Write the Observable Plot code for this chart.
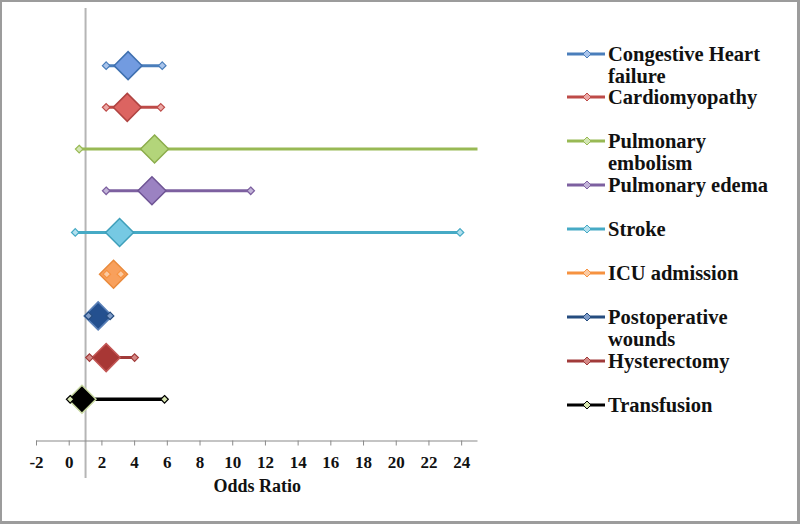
<!DOCTYPE html>
<html>
<head>
<meta charset="utf-8">
<script src="https://cdn.jsdelivr.net/npm/d3@7"></script>
<script src="https://cdn.jsdelivr.net/npm/@observablehq/plot@0.6"></script>
<style>
  html, body { margin: 0; padding: 0; background: #fff; }
  #wrap { position: relative; width: 800px; height: 524px; overflow: hidden; background: #fff; }
  #border { position: absolute; left: 0; top: 0; width: 800px; height: 524px; box-sizing: border-box;
            border: 2px solid #9c9c9c; border-right-width: 3px; border-bottom-width: 3px; pointer-events: none; }
  #chart { position: absolute; left: 0; top: 0; }
  .leg { position: absolute; left: 567px; font-family: "Liberation Serif", serif; font-weight: bold;
         font-size: 20.5px; line-height: 22px; color: #111; }
  .leg svg { position: absolute; left: 0; top: 0; }
  .leg span { position: absolute; left: 41px; top: 0; width: 180px; display: block; }
</style>
</head>
<body>
<div id="wrap">
  <div id="chart"></div>
  <div id="legend"></div>
  <div id="border"></div>
</div>
<script>
const categories = ["Congestive Heart failure", "Cardiomyopathy", "Pulmonary embolism", "Pulmonary edema",
  "Stroke", "ICU admission", "Postoperative wounds", "Hysterectomy", "Transfusion"];
const oddsRatio = [3.6, 3.55, 5.22, 5.06, 3.08, 2.71, 1.77, 2.26, 0.78];
const ciLow = [2.26, 2.26, 0.61, 2.26, 0.37, 2.3, 1.18, 1.24, 0.06];
const ciHigh = [5.69, 5.6, 40, 11.1, 23.9, 3.16, 2.5, 4.0, 5.83];
const xTicks = [-2, 0, 2, 4, 6, 8, 10, 12, 14, 16, 18, 20, 22, 24];
const lineColors = ["#4a7ebb", "#be4b48", "#98b954", "#7d60a0", "#46aac5", "#f69240", "#254c7f", "#a13b3a", "#000000"];
const diamondFills = ["#729be0", "#dc6461", "#b3d57a", "#9b82c2", "#76c9e3", "#f8a05c", "#24508f", "#a83735", "#000000"];
const diamondStrokes = ["#3f70b0", "#b04442", "#8cad4c", "#6e5494", "#3e9fba", "#e98a3c", "#5a80b8", "#c25654", "#c9d9a2"];
const markerFills = ["#a9c4eb", "#eba8a6", "#d3e6b3", "#c2b3d8", "#b3e0ee", "#fbcaa2", "#7f9cc8", "#d48886", "#d7e6b0"];
const refLine = 1;

const rows = categories.map((c, i) => ({
  name: c, y: categories.length - i, or: oddsRatio[i], lo: ciLow[i], hi: ciHigh[i],
  line: lineColors[i], fill: diamondFills[i], stroke: diamondStrokes[i], mfill: markerFills[i]
}));
const ends = rows.flatMap(r => [{...r, x: r.lo}, {...r, x: r.hi}]);

const plot = Plot.plot({
  width: 800,
  height: 524,
  marginLeft: 36,
  marginRight: 322.5,
  marginTop: 8,
  marginBottom: 83.5,
  x: {domain: [-2, 25]},
  y: {domain: [0, 10.37], axis: null},
  style: {fontFamily: "'Liberation Serif', serif", fontWeight: "bold", fontSize: "17px", color: "#111", background: "transparent"},
  marks: [
    Plot.ruleX([refLine], {y1: -0.9, y2: 10.37, stroke: "#b5b5b5", strokeWidth: 2}),
    Plot.ruleY([0], {stroke: "#8a8a8a", strokeWidth: 1.2}),
    Plot.axisX({ticks: xTicks, tickSize: 5, tickPadding: 10, stroke: "#8a8a8a", label: null, tickFormat: d => d}),
    Plot.text(["Odds Ratio"], {frameAnchor: "bottom", dy: 51, fontSize: 18, fontWeight: "bold", fill: "#111"}),
    Plot.ruleY(rows, {y: "y", x1: "lo", x2: "hi", stroke: "line", strokeWidth: d => d.name === "Transfusion" ? 3.5 : 3, clip: true}),
    Plot.dot(rows, {x: "or", y: "y", symbol: "diamond2", r: 12.6, fill: "fill", stroke: "stroke", strokeWidth: 1.5}),
    Plot.dot(ends, {x: "x", y: "y", symbol: "diamond2", r: 3.4, fill: "mfill", stroke: "line", strokeWidth: 1.2, clip: true})
  ]
});
document.getElementById("chart").appendChild(plot);

// legend
const legend = document.getElementById("legend");
const legTop = 53.5, legStep = 43.9;
rows.forEach((r, i) => {
  const yc = legTop + i * legStep;
  const div = document.createElement("div");
  div.className = "leg";
  div.style.top = (yc - 11) + "px";
  div.innerHTML = `<svg width="40" height="22"><line x1="0" x2="38" y1="11" y2="11" stroke="${r.line}" stroke-width="3"/>` +
    `<path d="M20,7L24,11L20,15L16,11Z" fill="${r.mfill}" stroke="${r.line}" stroke-width="1"/></svg>` +
    `<span>${r.name}</span>`;
  legend.appendChild(div);
});
</script>
</body>
</html>
